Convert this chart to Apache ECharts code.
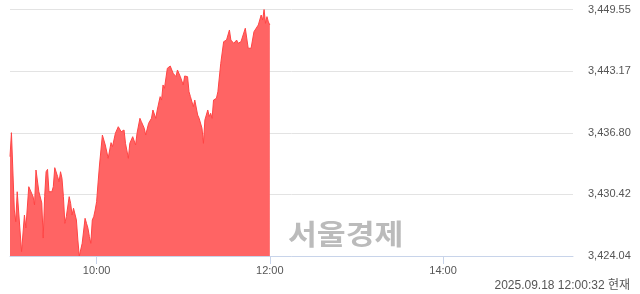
<!DOCTYPE html>
<html>
<head>
<meta charset="utf-8">
<script src="https://cdn.jsdelivr.net/npm/echarts@6/dist/echarts.min.js"></script>
<style>
html,body{margin:0;padding:0;background:#fff;}
#c{width:640px;height:294px;}
</style>
</head>
<body>
<div id="c"></div>
<script>
// minutes after 09:00
var minutes = [0,1,3,4,5,6,8,10,11,13,16,17,18,20,21,22,23,24,25,26,27,29,30,31,32,33,34,35,36,37,38,39,40,41,42,43,44,45,46,47,48,50,51,52,53,54,55,56,57,58,59,60,61,62,63,64,66,67,68,70,71,73,75,77,79,80,82,83,85,87,88,90,91,93,94,96,98,99,101,102,104,105,106,107,109,111,113,115,116,118,120,121,123,124,125,126,127,128,130,131,132,133,134,135,136,137,138,139,140,141,143,144,146,147,148,150,152,153,155,156,157,158,160,161,163,164,165,167,169,170,172,174,175,176,177,178,179,180];
var values = [3434.32,3436.80,3428.80,3427.59,3430.69,3430.53,3424.49,3428.28,3426.94,3431.21,3430.18,3429.32,3432.94,3430.69,3430.69,3429.53,3425.90,3430.18,3432.76,3433.01,3430.69,3430.69,3431.21,3433.18,3433.01,3432.25,3431.73,3432.76,3432.08,3430.18,3427.42,3428.11,3427.94,3430.18,3429.49,3428.28,3428.98,3428.80,3427.77,3425.70,3424.04,3425.35,3425.52,3427.94,3427.42,3426.91,3426.04,3425.35,3427.77,3428.11,3428.80,3429.66,3431.60,3433.46,3435.01,3436.56,3435.53,3435.70,3434.15,3435.77,3435.35,3436.74,3437.42,3436.90,3437.08,3435.70,3434.15,3435.70,3436.39,3435.53,3436.74,3438.29,3437.94,3437.26,3436.56,3437.77,3438.29,3439.15,3438.29,3439.15,3440.53,3440.18,3441.74,3441.40,3443.47,3443.70,3442.95,3442.60,3443.29,3442.60,3441.74,3442.67,3442.60,3441.04,3440.53,3440.70,3439.49,3440.18,3438.63,3438.29,3438.29,3437.26,3435.70,3438.12,3438.12,3439.15,3438.46,3438.81,3438.29,3440.18,3440.36,3441.04,3443.98,3444.15,3446.22,3446.39,3447.43,3446.39,3446.05,3446.22,3446.39,3446.05,3446.22,3446.05,3447.61,3447.43,3445.54,3445.54,3447.25,3447.43,3447.95,3448.98,3448.46,3449.55,3448.12,3448.81,3448.26,3447.95];
var xTickMinutes = [60,180,300];
var xTickLabels = ['10:00','12:00','14:00'];
var yTicks = [3424.04,3430.42,3436.80,3443.17,3449.55];
var yTickLabels = ['3,424.04','3,430.42','3,436.80','3,443.17','3,449.55'];
var stampText = '2025.09.18 12:00:32 현재';
var watermarkText = '서울경제';

var data = minutes.map(function(m,i){return [m, values[i]];});
var yMin = yTicks[0], yMax = yTicks[yTicks.length-1];
var chart = echarts.init(document.getElementById('c'));
chart.setOption({
  animation:false,
  grid:{left:10,right:67,top:9.5,bottom:38,outerBoundsMode:'none',containLabel:false},
  xAxis:{
    type:'value',min:0,max:390,
    splitLine:{show:false},
    axisLine:{show:true,lineStyle:{color:'#c8d4ea',width:1}},
    axisTick:{show:true,length:8,lineStyle:{color:'#c8d4ea'},customValues:xTickMinutes},
    axisLabel:{show:true,customValues:xTickMinutes,color:'#555',fontSize:11,fontFamily:'Liberation Sans, Arial, sans-serif',margin:9,
      formatter:function(v){var i=xTickMinutes.indexOf(Math.round(v));return i>=0?xTickLabels[i]:'';}}
  },
  yAxis:{
    type:'value',position:'right',min:yMin,max:yMax,interval:(yMax-yMin)/4,scale:true,
    axisLine:{show:false},axisTick:{show:false},
    splitLine:{show:true,lineStyle:{color:'#e3e3e3',width:1}},
    axisLabel:{color:'#555',fontSize:11,fontFamily:'Liberation Sans, Arial, sans-serif',margin:15,
      formatter:function(v){var best=0,d=1e9;for(var i=0;i<yTicks.length;i++){var dd=Math.abs(yTicks[i]-v);if(dd<d){d=dd;best=i;}}return yTickLabels[best];}}
  },
  series:[{
    type:'line',data:data,showSymbol:false,symbol:'none',
    lineStyle:{color:'#ff4545',width:1},
    areaStyle:{color:'#ff6464',opacity:1},
    z:3
  }],
  graphic:[
    {type:'text',x:288,y:220,scaleX:1.12,z:10,style:{text:watermarkText,fill:'#bbbbbb',font:'bold 28px "Noto Sans CJK KR", sans-serif'}},
    {type:'text',right:10,top:280,z:10,style:{text:stampText,fill:'#555',font:'12px "Liberation Sans", "Noto Sans CJK KR", sans-serif'}}
  ]
});
</script>
</body>
</html>
